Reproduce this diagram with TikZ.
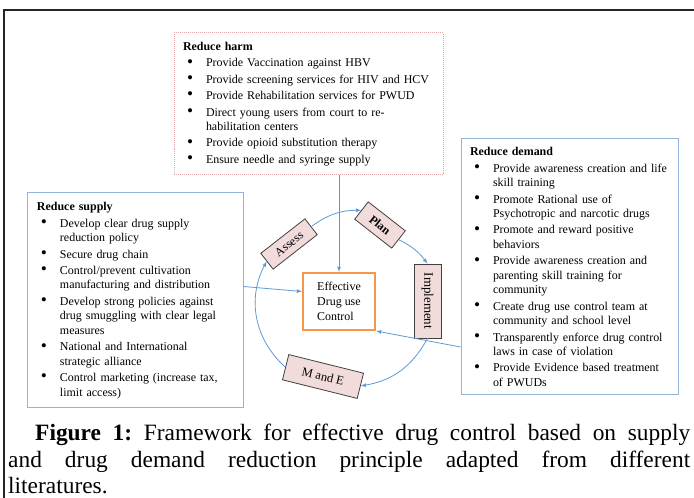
\documentclass[tikz,border=0pt]{standalone}
\usepackage{fontspec}
\setmainfont{Liberation Serif}
\usetikzlibrary{arrows}

\definecolor{boxblue}{HTML}{95B3D7}
\definecolor{harmred}{HTML}{E4A7A6}
\definecolor{cycleblue}{HTML}{5B9BD5}
\definecolor{efforange}{HTML}{F79646}
\definecolor{stepfill}{HTML}{F2DCDB}

\newlength\bulletgap
\newcommand{\bitem}[1]{\par{\let\\\newline\hangindent=\bulletgap\hangafter=1\noindent\makebox[\bulletgap][l]{\hspace{4bp}\raisebox{-0.3bp}{\scalebox{1.45}{\textbullet}}}#1\par}}

\begin{document}
\begin{tikzpicture}[x=1bp,y=1bp,>=latex,
  listbox/.style={draw=boxblue,line width=1bp,text width=#1,align=left,inner xsep=9bp,inner ysep=0bp,
    font=\fontsize{12}{14.5}\selectfont,
    execute at begin node={\setlength\parindent{0pt}\setlength\parskip{2bp}\setlength\bulletgap{23bp}}},
  steplabel/.style={draw=black!75,fill=stepfill,line width=0.8bp,inner sep=0pt,font=\fontsize{12}{14}\selectfont},
  cyc/.style={->,draw=cycleblue,line width=0.8bp},
  feed/.style={->,draw=cycleblue,line width=0.8bp}]
\useasboundingbox (0,0) rectangle (694,498);
\draw [line width=1.5bp,black!85] (694,488) -- (4,488) -- (4,0);

\node (harm) at (308.5,394) [listbox=251bp,draw=harmred,densely dotted,minimum height=142bp] {\textbf{Reduce harm}
\bitem{Provide Vaccination against HBV}
\bitem{Provide screening services for HIV and HCV}
\bitem{Provide Rehabilitation services for PWUD}
\bitem{Direct young users from court to re-\\habilitation centers}
\bitem{Provide opioid substitution therapy}
\bitem{Ensure needle and syringe supply}};

\node (demand) at (569.5,231) [listbox=199bp,minimum height=256bp] {\textbf{Reduce demand}
\bitem{Provide awareness creation and life\\skill training}
\bitem{Promote Rational use of\\Psychotropic and narcotic drugs}
\bitem{Promote and reward positive\\behaviors}
\bitem{Provide awareness creation and\\parenting skill training for\\community}
\bitem{Create drug use control team at\\community and school level}
\bitem{Transparently enforce drug control\\laws in case of violation}
\bitem{Provide Evidence based treatment\\of PWUDs}};

\node (supply) at (135.5,197.5) [listbox=197bp,minimum height=215bp] {\textbf{Reduce supply}
\bitem{Develop clear drug supply\\reduction policy}
\bitem{Secure drug chain}
\bitem{Control/prevent cultivation\\manufacturing and distribution}
\bitem{Develop strong policies against\\drug smuggling with clear legal\\measures}
\bitem{National and International\\strategic alliance}
\bitem{Control marketing (increase tax,\\limit access)}};

\node (eff) at (339,196.5) [draw=efforange,line width=2bp,minimum width=72bp,minimum height=57bp,align=left,font=\fontsize{12}{15}\selectfont] {Effective\\Drug use\\Control};

\node (assess) at (289,254) [steplabel,rotate=38,minimum width=56bp,minimum height=20bp] {Assess};
\node (plan) at (380,273) [steplabel,rotate=-38,minimum width=47bp,minimum height=22bp,font=\bfseries\fontsize{12}{14}\selectfont] {Plan};
\node (impl) at (427.5,197) [steplabel,rotate=-90,minimum width=74bp,minimum height=27bp,font=\fontsize{13}{15}\selectfont] {Implement};
\node (mande) at (323,121.5) [steplabel,rotate=-14,minimum width=77bp,minimum height=26bp,font=\fontsize{12.5}{15}\selectfont] {M and E};

\draw [cyc] (assess.east) to[bend left=18] (plan.west);
\draw [cyc] (plan.east) to[bend left=13] (impl.west);
\draw [cyc] (impl.east) to[bend left=26] (mande.east);
\draw [cyc] (mande.west) to[bend left=38] (assess.west);

\draw [feed] (harm.south -| eff.north) -- (eff.north);
\draw [feed] ([yshift=14bp]supply.east) -- ([yshift=10bp]eff.west);
\draw [feed] ([yshift=-80bp]demand.west) -- (eff.south east);

\node (caption) at (8,74) [anchor=north west,text width=682bp,align=justify,inner sep=0pt,font=\fontsize{23.5}{26.5}\selectfont] {\hspace*{27bp}\textbf{Figure 1:}\ Framework for effective drug control based on supply\linebreak and drug demand reduction principle adapted from different\linebreak literatures.};
\end{tikzpicture}
\end{document}
